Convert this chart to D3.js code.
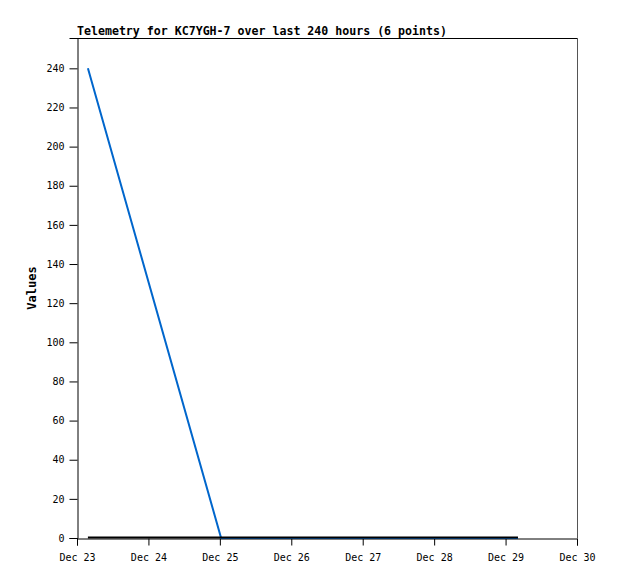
<!DOCTYPE html>
<html>
<head>
<meta charset="utf-8">
<script src="https://cdnjs.cloudflare.com/ajax/libs/d3/7.8.5/d3.min.js"></script>
<style>
  body { margin: 0; background: #fff; }
  text { font-family: "DejaVu Sans Mono", "Liberation Mono", monospace; }
</style>
</head>
<body>
<svg width="618" height="579"></svg>
<script>
// 6 telemetry samples
const times = ["2023-12-23T03:40", "2023-12-25T00:25", "2023-12-26T02:00",
               "2023-12-27T03:00", "2023-12-28T04:00", "2023-12-29T04:10"];
const series1 = [240, 0, 0, 0, 0, 0];
const series2 = [0, 0, 0, 0, 0, 0];
const xTicks = ["2023-12-23", "2023-12-24", "2023-12-25", "2023-12-26",
                "2023-12-27", "2023-12-28", "2023-12-29", "2023-12-30"];
const yTicks = [0, 20, 40, 60, 80, 100, 120, 140, 160, 180, 200, 220, 240];

const margin = {top: 38, left: 77, right: 41, bottom: 41};
const width = 618 - margin.left - margin.right;
const height = 579 - margin.top - margin.bottom;

const parse = d3.timeParse("%Y-%m-%dT%H:%M");
const parseDay = d3.timeParse("%Y-%m-%d");

const svg = d3.select("svg");
const g = svg.append("g")
    .attr("transform", "translate(" + margin.left + "," + margin.top + ")");

const x_scale = d3.scaleTime()
    .domain([parseDay(xTicks[0]), parseDay(xTicks[xTicks.length - 1])])
    .range([0, width]);
const y_scale = d3.scaleLinear()
    .domain([0, 255.5])
    .range([height, 0]);

// frame
g.append("line").attr("x1", 0).attr("x2", width).attr("y1", 0.5).attr("y2", 0.5)
  .attr("stroke", "#000");
g.append("line").attr("x1", width + 0.5).attr("x2", width + 0.5).attr("y1", 0).attr("y2", height)
  .attr("stroke", "#555");

const xAxis = g.append("g")
    .attr("transform", "translate(0," + (height + 0.5) + ")")
    .call(d3.axisBottom(x_scale)
      .tickValues(xTicks.map(parseDay))
      .tickSize(7)
      .tickFormat(d3.timeFormat("Dec %d")));
xAxis.selectAll("text").attr("font-size", 10).attr("dy", "1.2em")
  .attr("font-family", "DejaVu Sans Mono").attr("fill", "#000");

const yAxis = g.append("g")
    .attr("transform", "translate(0.5,0)")
    .call(d3.axisLeft(y_scale).tickValues(yTicks).tickSize(8).tickPadding(5));
yAxis.selectAll("text").attr("font-size", 10)
  .attr("font-family", "DejaVu Sans Mono").attr("fill", "#000");
[xAxis, yAxis].forEach(a => {
  a.select(".domain").attr("stroke", "#000");
  a.selectAll(".tick line").attr("stroke", "#000");
});

const pts1 = times.map((t, i) => ({t: parse(t), v: series1[i]}));
const pts2 = times.map((t, i) => ({t: parse(t), v: series2[i]}));

const line = d3.line().x(d => x_scale(d.t)).y(d => y_scale(d.v));

g.append("path").datum(pts1)
  .attr("fill", "none").attr("stroke", "#0066cc").attr("stroke-width", 2)
  .attr("d", line);
g.append("path").datum(pts2)
  .attr("fill", "none").attr("stroke", "#000").attr("stroke-width", 2)
  .attr("transform", "translate(0,-0.5)")
  .attr("d", line);

// title and axis label
svg.append("text")
  .attr("x", margin.left).attr("y", 35)
  .attr("font-size", 11.6).attr("font-weight", "bold")
  .text("Telemetry for KC7YGH-7 over last 240 hours (6 points)");

svg.append("text")
  .attr("transform", "translate(36," + (margin.top + height / 2) + ") rotate(-90)")
  .attr("text-anchor", "middle")
  .attr("font-size", 12).attr("font-weight", "bold")
  .text("Values");
</script>
</body>
</html>
